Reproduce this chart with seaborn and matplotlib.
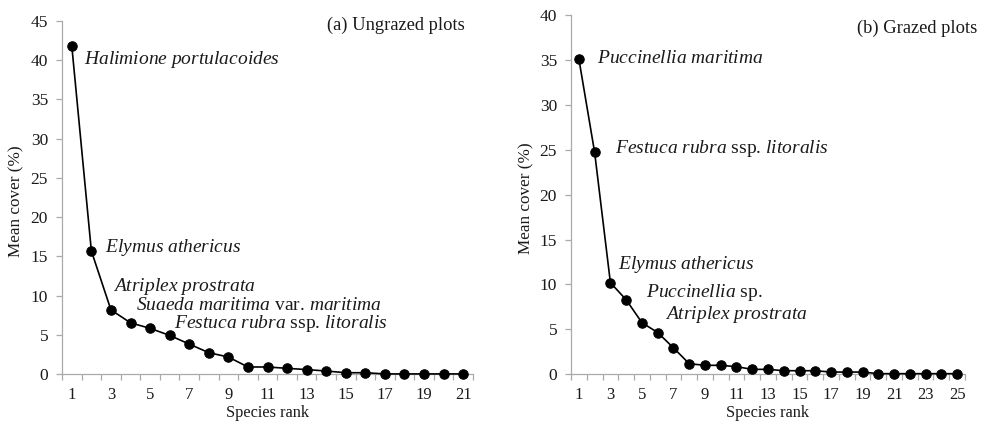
import matplotlib
matplotlib.use("Agg")
import matplotlib.pyplot as plt
import seaborn as sns
import pandas as pd
from matplotlib.ticker import FixedLocator

# ---------------- data ----------------
ungrazed_rank = list(range(1, 22))
ungrazed_cover = [41.8, 15.7, 8.2, 6.55, 5.85, 4.95, 3.85, 2.75, 2.2, 0.93, 0.93,
                  0.76, 0.6, 0.42, 0.2, 0.2, 0.05, 0.05, 0.05, 0.05, 0.05]
grazed_rank = list(range(1, 26))
grazed_cover = [35.1, 24.7, 10.2, 8.3, 5.75, 4.65, 2.95, 1.18, 1.0, 1.0, 0.85,
                0.55, 0.55, 0.4, 0.4, 0.4, 0.25, 0.25, 0.25, 0.07, 0.07, 0.07,
                0.07, 0.07, 0.07]

ungrazed_labels = [r"$\it{Halimione\ portulacoides}$",
                   r"$\it{Elymus\ athericus}$",
                   r"$\it{Atriplex\ prostrata}$",
                   r"$\it{Suaeda\ maritima}$ var. $\it{maritima}$",
                   r"$\it{Festuca\ rubra}$ ssp. $\it{litoralis}$"]
grazed_labels = [r"$\it{Puccinellia\ maritima}$",
                 r"$\it{Festuca\ rubra}$ ssp. $\it{litoralis}$",
                 r"$\it{Elymus\ athericus}$",
                 r"$\it{Puccinellia}$ sp.",
                 r"$\it{Atriplex\ prostrata}$"]

ungrazed_ticks = [1, 3, 5, 7, 9, 11, 13, 15, 17, 19, 21]
grazed_ticks = [1, 3, 5, 7, 9, 11, 13, 15, 17, 19, 21, 23, 25]
ungrazed_yticks = [0, 5, 10, 15, 20, 25, 30, 35, 40, 45]
grazed_yticks = [0, 5, 10, 15, 20, 25, 30, 35, 40]

panel_titles = ["(a) Ungrazed plots", "(b) Grazed plots"]
xlabel = "Species rank"
ylabel = "Mean cover (%)"

# ---------------- style ----------------
sns.set_style("white")
plt.rcParams["font.family"] = ["Liberation Serif", "DejaVu Serif"]
plt.rcParams["mathtext.fontset"] = "custom"
plt.rcParams["mathtext.rm"] = "Liberation Serif"
plt.rcParams["mathtext.it"] = "Liberation Serif:italic"

DPI = 100
W, H = 986, 423
fig = plt.figure(figsize=(W / DPI, H / DPI), dpi=DPI)

def fig_rect(x0, x1, ytop, ybot):
    return [x0 / W, 1 - ybot / H, (x1 - x0) / W, (ybot - ytop) / H]

ax1 = fig.add_axes(fig_rect(62, 473, 20.7, 374.3))
ax2 = fig.add_axes(fig_rect(571, 965, 15.0, 374.3))

spine_col = "#aaaaaa"
text_col = "#1a1a1a"

# offsets of labels from their points (pixels)
ung_offsets = [(12, -14), (14, 3), (2, 23), (5, 17), (24, 5)]
gr_offsets = [(18, 1), (20, 4), (8, 18), (20, 7), (23, 8)]
title_pos = [(0.981, 0.988), (1.031, 0.964)]

panels = [
    (ax1, ungrazed_rank, ungrazed_cover, ungrazed_labels, ung_offsets,
     ungrazed_ticks, ungrazed_yticks, 45, panel_titles[0], title_pos[0]),
    (ax2, grazed_rank, grazed_cover, grazed_labels, gr_offsets,
     grazed_ticks, grazed_yticks, 40, panel_titles[1], title_pos[1]),
]

for ax, rank, cover, labels, offs, xt, yt, ymax, title, tpos in panels:
    df = pd.DataFrame({"rank": rank, "cover": cover})
    sns.lineplot(data=df, x="rank", y="cover", ax=ax, color="black",
                 linewidth=1.2, marker="o", markersize=6.8,
                 markeredgecolor="black", markerfacecolor="black",
                 clip_on=False, zorder=3)
    n = len(rank)
    ax.set_xlim(0.5, n + 0.5)
    ax.set_ylim(0, ymax)

    for s in ["top", "right"]:
        ax.spines[s].set_visible(False)
    for s in ["left", "bottom"]:
        ax.spines[s].set_color(spine_col)
        ax.spines[s].set_linewidth(0.9)

    ax.xaxis.set_major_locator(FixedLocator(xt))
    ax.set_xticklabels([str(t) for t in xt])
    ax.xaxis.set_minor_locator(FixedLocator([i + 0.5 for i in range(0, n + 1)]))
    ax.tick_params(axis="x", which="major", length=0, pad=9,
                   labelsize=12, labelcolor=text_col)
    ax.tick_params(axis="x", which="minor", length=4, width=0.9,
                   color=spine_col, direction="out", bottom=True)
    ax.set_yticks(yt)
    ax.set_yticklabels([str(t) for t in yt])
    ax.tick_params(axis="y", which="major", length=4, width=0.9,
                   color=spine_col, direction="out", left=True, pad=6,
                   labelsize=12.5, labelcolor=text_col)

    ax.set_xlabel(xlabel, fontsize=11.8, color=text_col)
    ax.set_ylabel(ylabel, fontsize=12.3, color=text_col)
    ax.xaxis.set_label_coords(0.5, -30.5 / (374.3 - (20.7 if ymax == 45 else 15.0)))
    ax.yaxis.set_label_coords(-0.0925, 0.49)

    for i, (lab, off) in enumerate(zip(labels, offs)):
        ax.annotate(lab, xy=(rank[i], cover[i]), xytext=off,
                    textcoords="offset pixels", ha="left", va="center",
                    fontsize=14, color=text_col)

    ax.text(tpos[0], tpos[1], title, transform=ax.transAxes,
            ha="right", va="center", fontsize=13.3, color=text_col)
    ax.grid(False)

fig.savefig("out.png", dpi=DPI)
